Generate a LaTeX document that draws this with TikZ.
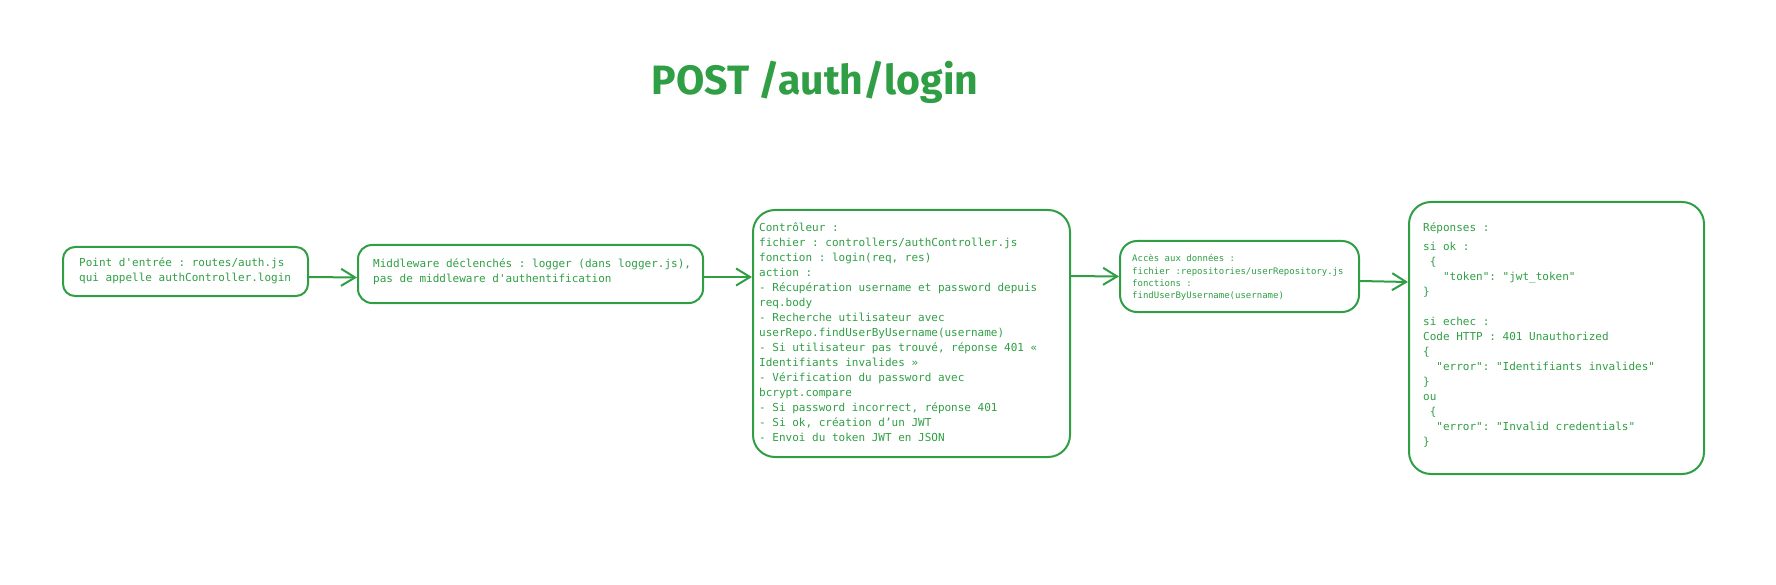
\documentclass[tikz,border=0pt]{standalone}
\usepackage{fontspec}
\setmonofont{DejaVu Sans Mono}
\newfontfamily\titlefont{Fira Sans}
\usetikzlibrary{positioning,arrows.meta}
\definecolor{exgreen}{HTML}{2F9E44}
\tikzset{
  card/.style={draw=exgreen, line width=2pt, rounded corners=#1, inner sep=0pt},
  txt/.style={text=exgreen, font=\ttfamily\fontsize{11}{15}\selectfont, align=left, inner sep=0pt},
  title/.style={text=exgreen, font=\titlefont\bfseries\fontsize{41}{41}\selectfont, anchor=base, inner sep=0pt},
  link/.style={draw=exgreen, line width=2pt, -{Straight Barb[length=14pt,width=17pt]}}
}
\begin{document}
\begin{tikzpicture}[x=1pt, y=1pt, line cap=round, line join=round]
  \useasboundingbox (0,0) rectangle (1776,-585);
  \node[title] (ttl) at (815,-95) {POST /auth/login};

  \node[card=12pt, minimum width=245pt, minimum height=49pt] (entry) at (185.5,-271.5) {};
  \node[txt, right=17pt of entry.west, yshift=1pt] (entry-t) {Point d'entrée : routes/auth.js\\qui appelle authController.login};

  \node[card=14pt, minimum width=345pt, minimum height=58pt] (mw) at (530.5,-274) {};
  \node[txt, right=16pt of mw.west, yshift=2.5pt] (mw-t) {Middleware déclenchés : logger (dans logger.js),\\pas de middleware d'authentification};

  \node[card=22pt, minimum width=317pt, minimum height=247pt] (ctrl) at (911.5,-333.5) {};
  \node[txt, right=7pt of ctrl.west, yshift=1.5pt] (ctrl-t) {Contrôleur :\\
fichier : controllers/authController.js\\
fonction : login(req, res)\\
action :\\
- Récupération username et password depuis\\
req.body\\
- Recherche utilisateur avec\\
userRepo.findUserByUsername(username)\\
- Si utilisateur pas trouvé, réponse 401 «\\
Identifiants invalides »\\
- Vérification du password avec\\
bcrypt.compare\\
- Si password incorrect, réponse 401\\
- Si ok, création d’un JWT\\
- Envoi du token JWT en JSON};

  \node[card=17pt, minimum width=239pt, minimum height=71pt] (repo) at (1239.5,-276.5) {};
  \node[txt, font=\ttfamily\fontsize{9}{12.3}\selectfont, right=13pt of repo.west, yshift=-1pt] (repo-t) {Accès aux données :\\
fichier :repositories/userRepository.js\\
fonctions :\\
findUserByUsername(username)};

  \node[card=22pt, minimum width=295pt, minimum height=272pt] (resp) at (1556.5,-338) {};
  \node[txt, right=15pt of resp.west, yshift=3.5pt] (resp-t) {Réponses :\\[4pt]
si ok :\\
\phantom{x}\{\\
\phantom{xxx}"token": "jwt\_token"\\
\}\\[15pt]
si echec :\\
Code HTTP : 401 Unauthorized\\
\{\\
\phantom{xx}"error": "Identifiants invalides"\\
\}\\
ou\\
\phantom{x}\{\\
\phantom{xx}"error": "Invalid credentials"\\
\}};

  \draw[link] ([yshift=-5.5pt]entry.east) -- ([yshift=-3.5pt]mw.west);
  \draw[link] ([yshift=-3pt]mw.east) -- ([yshift=56.5pt]ctrl.west);
  \draw[link] ([yshift=57.5pt]ctrl.east) -- (repo.west);
  \draw[link] ([yshift=-4.5pt]repo.east) -- ([yshift=56pt]resp.west);
\end{tikzpicture}
\end{document}
